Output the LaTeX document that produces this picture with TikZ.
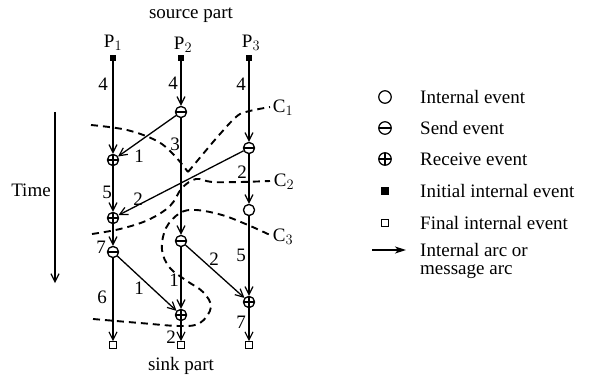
\documentclass[tikz,border=0pt]{standalone}
\usepackage{fontspec}
\setmainfont{Liberation Serif}
\usetikzlibrary{arrows.meta}
\begin{document}
\begin{tikzpicture}[x=1pt,y=-1pt,
  font=\fontsize{19}{21}\selectfont,
  ev/.style={circle,draw,line width=1.2pt,minimum size=11pt,inner sep=0pt,fill=white},
  evint/.style={ev},
  evsend/.style={ev,path picture={\draw[line width=1.1pt] (path picture bounding box.west) -- (path picture bounding box.east);}},
  evrecv/.style={ev,path picture={\draw[line width=1.1pt] (path picture bounding box.west) -- (path picture bounding box.east);
     \draw[line width=1.1pt] (path picture bounding box.north) -- (path picture bounding box.south);}},
  evinit/.style={rectangle,fill=black,minimum size=6.5pt,inner sep=0pt},
  evfinal/.style={rectangle,draw,line width=1.1pt,fill=white,minimum size=6.5pt,inner sep=0pt},
  arc/.style={line width=1.3pt,-{Straight Barb[length=8pt,width=8pt,line width=1.2pt]}},
  cut/.style={line width=1.9pt,dash pattern=on 7pt off 5pt},
  wt/.style={inner sep=0pt},
  lgtxt/.style={anchor=west,inner sep=0pt},
  lgline/.style={anchor=base west,inner sep=0pt},
]
\useasboundingbox (0,0) rectangle (594,377);

% titles
\node[wt] (src) at (191,15) {source part};
\node[wt] (snk) at (181,366) {sink part};
\node[wt] (P1) at (113,43) {P$_1$};
\node[wt] (P2) at (183,45) {P$_2$};
\node[wt] (P3) at (251,43) {P$_3$};

% process P1
\node[evinit]  (a1) at (113,58) {};
\node[evrecv]  (a2) at (113,160) {};
\node[evrecv]  (a3) at (113,218) {};
\node[evsend]  (a4) at (113,252) {};
\node[evfinal] (a5) at (113,345) {};
% process P2
\node[evinit]  (b1) at (181,58) {};
\node[evsend]  (b2) at (181,112) {};
\node[evsend]  (b3) at (181,241) {};
\node[evrecv]  (b4) at (181,315) {};
\node[evfinal] (b5) at (181,345) {};
% process P3
\node[evinit]  (c1) at (249,58) {};
\node[evsend]  (c2) at (249,148) {};
\node[evint]   (c3) at (249,210) {};
\node[evrecv]  (c4) at (249,302) {};
\node[evfinal] (c5) at (249,345) {};

% internal arcs
\draw[arc] (a1) -- (a2);
\draw[arc] (a2) -- (a3);
\draw[arc] (a3) -- (a4);
\draw[arc] (a4) -- (a5);
\draw[arc] (b1) -- (b2);
\draw[arc] (b2) -- (b3);
\draw[arc] (b3) -- (b4);
\draw[arc] (b4) -- (b5);
\draw[arc] (c1) -- (c2);
\draw[arc] (c2) -- (c3);
\draw[arc] (c3) -- (c4);
\draw[arc] (c4) -- (c5);

% message arcs
\draw[arc] (b2) -- (a2);
\draw[arc] (c2) -- (a3);
\draw[arc] (a4) -- (b4);
\draw[arc] (b3) -- (c4);

% redraw event nodes on top of the arcs
\foreach \n/\s in {a2/evrecv,a3/evrecv,a4/evsend,b2/evsend,b3/evsend,b4/evrecv,c2/evsend,c3/evint,c4/evrecv}
  \node[\s] at (\n) {};

% arc weights
\node[wt] (wa1) at (103,84) {4};
\node[wt] (wa2) at (107,192) {5};
\node[wt] (wa3) at (101,247) {7};
\node[wt] (wa4) at (102,297) {6};
\node[wt] (wb1) at (173,83) {4};
\node[wt] (wb2) at (175,144) {3};
\node[wt] (wb3) at (174,280) {1};
\node[wt] (wb4) at (171,337) {2};
\node[wt] (wc1) at (241,84) {4};
\node[wt] (wc2) at (242,172) {2};
\node[wt] (wc3) at (241,255) {5};
\node[wt] (wc4) at (241,322) {7};
\node[wt] (wm1) at (139,156) {1};
\node[wt] (wm2) at (138,199) {2};
\node[wt] (wm3) at (139,288) {1};
\node[wt] (wm4) at (214,259) {2};

% cuts
\draw[cut] plot[smooth,tension=0.6] coordinates {(91,125) (127,130) (157,141) (174,155) (188,172)};
\draw[cut] plot[smooth,tension=0.4] coordinates {(188,172) (203,154) (220,134) (240,114) (270,107)};
\draw[cut] plot[smooth,tension=0.6] coordinates {(92,234) (120,229) (148,220) (170,206) (182,188) (196,179) (212,182) (240,182) (270,181)};
\draw[cut] plot[smooth,tension=0.6] coordinates {(93,319) (140,323) (180,326) (200,323) (211,307) (203,292) (187,281) (170,268) (162,250) (166,228) (180,213) (196,210) (222,215) (248,225) (270,235)};
\node[wt] (C1) at (283,108) {C$_1$};
\node[wt] (C2) at (284,182) {C$_2$};
\node[wt] (C3) at (283,237) {C$_3$};

% time axis
\coordinate (t0) at (55,112);
\coordinate (t1) at (55,283);
\draw[arc] (t0) -- (t1);
\node[wt] (time) at (31,190) {Time};

% legend
\node[evint,minimum size=12.5pt]  (l1) at (385,97) {};
\node[evsend,minimum size=12.5pt] (l2) at (385,128) {};
\node[evrecv,minimum size=12.5pt] (l3) at (385,159) {};
\node[evinit,minimum size=7.5pt]  (l4) at (385,191) {};
\node[evfinal,minimum size=7.5pt] (l5) at (385,223) {};
\coordinate (l6a) at (372,250);
\coordinate (l6b) at (406,250);
\draw[line width=1.3pt,-{Stealth[length=11pt,width=7pt,inset=3pt]}] (l6a) -- (l6b);
\node[lgtxt] (t1l) at (420,97) {Internal event};
\node[lgtxt] (t2l) at (420,128) {Send event};
\node[lgtxt] (t3l) at (420,159) {Receive event};
\node[lgtxt] (t4l) at (420,191) {Initial internal event};
\node[lgtxt] (t5l) at (420,223) {Final internal event};
\node[lgline] (t6l) at (420,256) {Internal arc or};
\node[lgline] (t7l) at (420,274) {message arc};
\end{tikzpicture}
\end{document}
